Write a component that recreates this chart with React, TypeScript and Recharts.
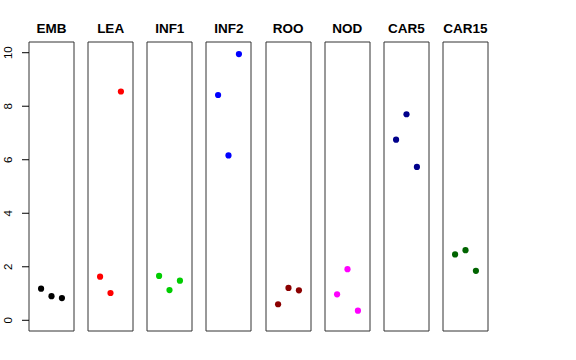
import React from "react";
import {
  ScatterChart,
  Scatter,
  XAxis,
  YAxis,
  ReferenceArea,
} from "recharts";

const tissues = ["EMB", "LEA", "INF1", "INF2", "ROO", "NOD", "CAR5", "CAR15"];
const colors = ["#000000", "#FF0000", "#00CD00", "#0000FF", "#8B0000", "#FF00FF", "#00008B", "#006400"];

const emb = [1.18, 0.9, 0.83];
const lea = [1.63, 1.02, 8.55];
const inf1 = [1.66, 1.13, 1.48];
const inf2 = [8.42, 6.16, 9.95];
const roo = [0.6, 1.21, 1.12];
const nod = [0.97, 1.91, 0.36];
const car5 = [6.75, 7.7, 5.73];
const car15 = [2.46, 2.62, 1.85];

const values = [emb, lea, inf1, inf2, roo, nod, car5, car15];
const yTicks = [0, 2, 4, 6, 8, 10];

const X_DOMAIN: [number, number] = [-0.16, 4.16];
const Y_DOMAIN: [number, number] = [-0.4, 10.4];
const BOX_LEFT = 29;
const STEP = 59.14;
const BOX_W = 45;
const TOP = 42;
const BOTTOM = 29;
const H = 360;
const FONT = "'Liberation Sans', Arial, Helvetica, sans-serif";

const YTick = (props: any) => {
  const { y, payload } = props;
  const bx = 12.5;
  return (
    <text
      x={bx}
      y={y}
      transform={`rotate(-90, ${bx}, ${y})`}
      textAnchor="middle"
      fontSize={11.5}
      fontFamily={FONT}
      fill="#000"
    >
      {payload.value}
    </text>
  );
};

const Panel = ({ idx }: { idx: number }) => {
  const first = idx === 0;
  const data = values[idx].map((v, i) => ({ x: i + 1, y: v }));
  const color = colors[idx];
  const left = first ? 0 : BOX_LEFT + STEP * idx - 1;
  const width = first ? BOX_LEFT + BOX_W + 1 : BOX_W + 2;
  return (
    <div style={{ position: "absolute", left, top: 0 }}>
      <ScatterChart
        width={width}
        height={H}
        margin={{ top: TOP, bottom: BOTTOM, left: first ? 0 : 1, right: 1 }}
      >
        <XAxis type="number" dataKey="x" domain={X_DOMAIN} hide />
        <YAxis
          type="number"
          dataKey="y"
          domain={Y_DOMAIN}
          ticks={yTicks}
          hide={!first}
          width={BOX_LEFT}
          axisLine={false}
          tickLine={{ stroke: "#000" }}
          tickSize={7}
          tick={<YTick />}
          allowDataOverflow
        />
        <ReferenceArea
          x1={X_DOMAIN[0]}
          x2={X_DOMAIN[1]}
          y1={Y_DOMAIN[0]}
          y2={Y_DOMAIN[1]}
          fill="none"
          fillOpacity={0}
          stroke="#333"
          strokeWidth={1}
          ifOverflow="visible"
        />
        <Scatter
          data={data}
          isAnimationActive={false}
          shape={(p: any) => <circle cx={p.cx} cy={p.cy} r={3.1} fill={color} />}
        />
      </ScatterChart>
      <div
        style={{
          position: "absolute",
          left: (first ? BOX_LEFT : 1) - 20,
          width: BOX_W + 40,
          top: 22,
          textAlign: "center",
          fontFamily: FONT,
          fontWeight: "bold",
          fontSize: 13.5,
          lineHeight: "14px",
          color: "#000",
        }}
      >
        {tissues[idx]}
      </div>
    </div>
  );
};

export default function App() {
  return (
    <div
      style={{
        position: "absolute",
        left: 0,
        top: 0,
        width: 576,
        height: H,
        background: "#fff",
        overflow: "hidden",
      }}
    >
      {tissues.map((_, i) => (
        <Panel key={i} idx={i} />
      ))}
    </div>
  );
}
